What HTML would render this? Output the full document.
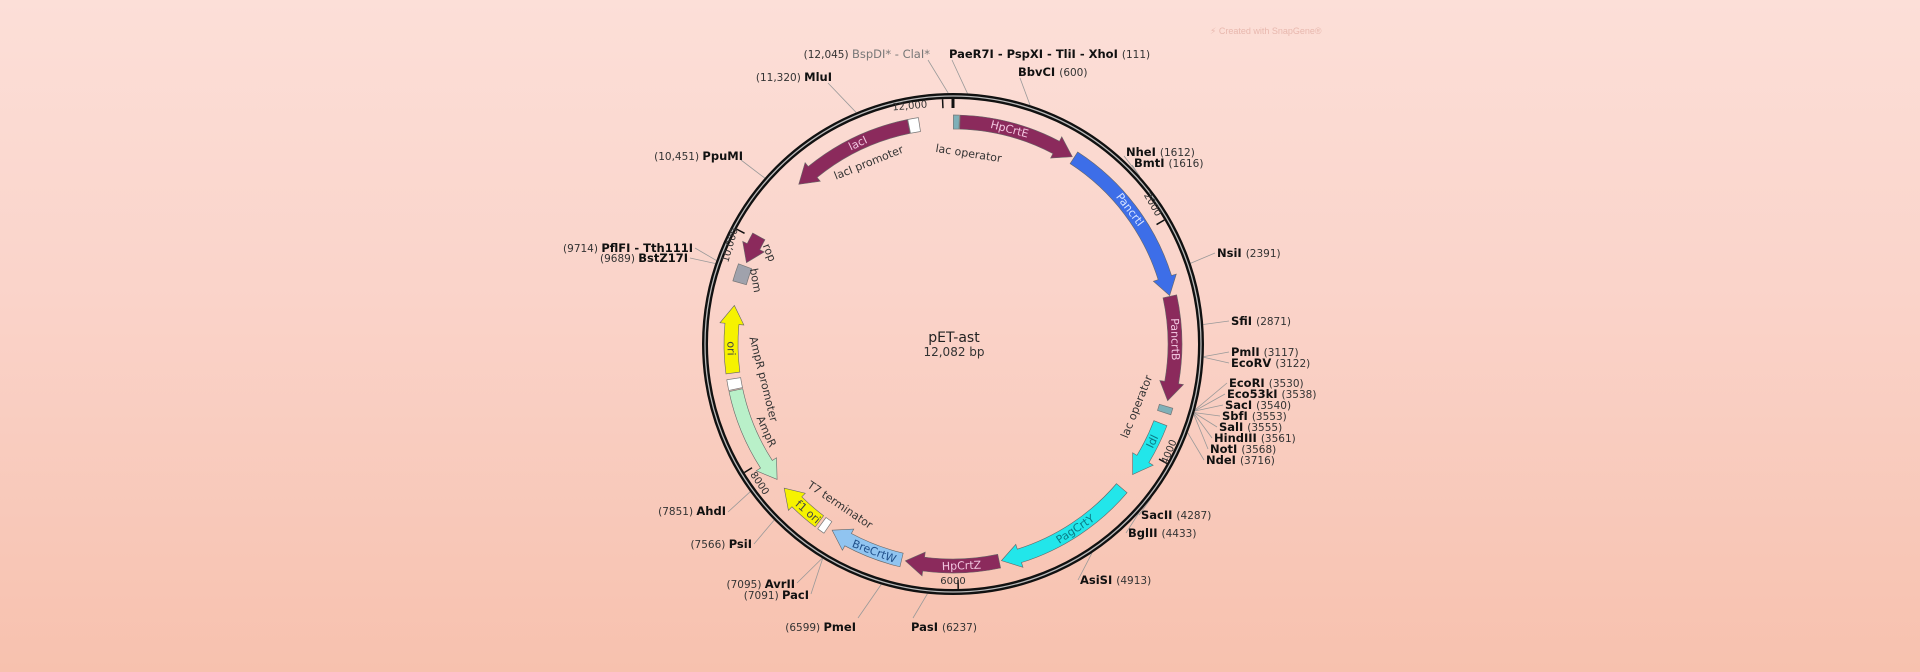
<!DOCTYPE html>
<html><head><meta charset="utf-8">
<style>
html,body{margin:0;padding:0;}
body{width:1920px;height:672px;overflow:hidden;background:linear-gradient(180deg,#fcdfd8 0%,#fad3c9 45%,#f7c1ae 100%);font-family:"Liberation Sans","DejaVu Sans",sans-serif;}
svg{position:absolute;left:0;top:0;}
.en{font-size:11.5px;fill:#111;font-weight:bold;font-family:"DejaVu Sans","Liberation Sans",sans-serif;}
.pos{font-size:10.5px;fill:#333;font-weight:normal;}
.gr{fill:#777;font-weight:normal;}
.in{font-size:11px;fill:#333;font-family:"DejaVu Sans","Liberation Sans",sans-serif;}
.tk{font-size:10px;fill:#333;font-family:"DejaVu Sans","Liberation Sans",sans-serif;}
.fl{font-size:11px;font-family:"DejaVu Sans","Liberation Sans",sans-serif;}
</style></head>
<body>
<svg id="s" width="1920" height="672" viewBox="0 0 1920 672" xmlns="http://www.w3.org/2000/svg">
<g id="lines" stroke="#999" stroke-width="0.8" fill="none"></g>
<circle cx="953" cy="344" r="248" fill="none" stroke="#111" stroke-width="6"/>
<circle cx="953" cy="344" r="248" fill="none" stroke="#bbb" stroke-width="1.3"/>
<g id="feat"></g>
<g id="ticks" stroke="#111" stroke-width="2"></g>

<text x="954" y="342" text-anchor="middle" style="font-size:14px;fill:#222;font-family:'DejaVu Sans',sans-serif">pET-ast</text>
<text x="954" y="356" text-anchor="middle" style="font-size:12px;fill:#333;font-family:'DejaVu Sans',sans-serif">12,082 bp</text>

<text x="1210" y="34" style="font-size:9px;fill:#e8b8ae">⚡ Created with SnapGene®</text>

<text class="en" x="930" y="58" text-anchor="end"><tspan class="pos">(12,045) </tspan><tspan class="gr">BspDI* - ClaI*</tspan></text>
<text class="en" x="949" y="58">PaeR7I - PspXI - TliI - XhoI <tspan class="pos">(111)</tspan></text>
<text class="en" x="1018" y="76">BbvCI <tspan class="pos">(600)</tspan></text>
<text class="en" x="832" y="81" text-anchor="end"><tspan class="pos">(11,320) </tspan>MluI</text>
<text class="en" x="743" y="160" text-anchor="end"><tspan class="pos">(10,451) </tspan>PpuMI</text>
<text class="en" x="1126" y="156">NheI <tspan class="pos">(1612)</tspan></text>
<text class="en" x="1134" y="167">BmtI <tspan class="pos">(1616)</tspan></text>
<text class="en" x="1217" y="257">NsiI <tspan class="pos">(2391)</tspan></text>
<text class="en" x="1231" y="325">SfiI <tspan class="pos">(2871)</tspan></text>
<text class="en" x="1231" y="356">PmlI <tspan class="pos">(3117)</tspan></text>
<text class="en" x="1231" y="367">EcoRV <tspan class="pos">(3122)</tspan></text>
<text class="en" x="1229" y="387">EcoRI <tspan class="pos">(3530)</tspan></text>
<text class="en" x="1227" y="398">Eco53kI <tspan class="pos">(3538)</tspan></text>
<text class="en" x="1225" y="409">SacI <tspan class="pos">(3540)</tspan></text>
<text class="en" x="1222" y="420">SbfI <tspan class="pos">(3553)</tspan></text>
<text class="en" x="1219" y="431">SalI <tspan class="pos">(3555)</tspan></text>
<text class="en" x="1214" y="442">HindIII <tspan class="pos">(3561)</tspan></text>
<text class="en" x="1210" y="453">NotI <tspan class="pos">(3568)</tspan></text>
<text class="en" x="1206" y="464">NdeI <tspan class="pos">(3716)</tspan></text>
<text class="en" x="1141" y="519">SacII <tspan class="pos">(4287)</tspan></text>
<text class="en" x="1128" y="537">BglII <tspan class="pos">(4433)</tspan></text>
<text class="en" x="1080" y="584">AsiSI <tspan class="pos">(4913)</tspan></text>
<text class="en" x="911" y="631">PasI <tspan class="pos">(6237)</tspan></text>
<text class="en" x="856" y="631" text-anchor="end"><tspan class="pos">(6599) </tspan>PmeI</text>
<text class="en" x="726" y="515" text-anchor="end"><tspan class="pos">(7851) </tspan>AhdI</text>
<text class="en" x="752" y="548" text-anchor="end"><tspan class="pos">(7566) </tspan>PsiI</text>
<text class="en" x="795" y="588" text-anchor="end"><tspan class="pos">(7095) </tspan>AvrII</text>
<text class="en" x="809" y="599" text-anchor="end"><tspan class="pos">(7091) </tspan>PacI</text>
<text class="en" x="693" y="252" text-anchor="end"><tspan class="pos">(9714) </tspan>PflFI - Tth111I</text>
<text class="en" x="688" y="262" text-anchor="end"><tspan class="pos">(9689) </tspan>BstZ17I</text>

<text class="in" transform="translate(870,166) rotate(-22)" text-anchor="middle">lacI promoter</text>
<text class="in" transform="translate(968,157) rotate(9)" text-anchor="middle">lac operator</text>
<text class="in" transform="translate(1140,408) rotate(-68)" text-anchor="middle">lac operator</text>
<text class="in" transform="translate(838,508) rotate(34)" text-anchor="middle">T7 terminator</text>
<text class="in" transform="translate(760,380) rotate(76)" text-anchor="middle">AmpR promoter</text>
<text class="in" transform="translate(763,433) rotate(66)" text-anchor="middle">AmpR</text>
<text class="in" transform="translate(752,281) rotate(80)" text-anchor="middle">bom</text>
<text class="in" transform="translate(766,254) rotate(68)" text-anchor="middle">rop</text>

<text class="tk" transform="translate(910,109) rotate(-5)" text-anchor="middle">12,000</text>
<text class="tk" transform="translate(1150,206) rotate(60)" text-anchor="middle">2000</text>
<text class="tk" transform="translate(1172,453) rotate(-68)" text-anchor="middle">4000</text>
<text class="tk" transform="translate(953,584)" text-anchor="middle">6000</text>
<text class="tk" transform="translate(757,485) rotate(56)" text-anchor="middle">8000</text>
<text class="tk" transform="translate(733,246) rotate(-74)" text-anchor="middle">10,000</text>
</svg>
<script>
var CX=953,CY=344,NS="http://www.w3.org/2000/svg";
function pt(a,r){var t=a*Math.PI/180;return [CX+r*Math.sin(t),CY-r*Math.cos(t)];}
function el(tag,attrs,parent){var e=document.createElementNS(NS,tag);for(var k in attrs)e.setAttribute(k,attrs[k]);parent.appendChild(e);return e;}
var F=document.getElementById('feat');
var R=222,W=7,HW=12;
function arrow(a1,a2,col,label,tcol,stroke){
  var dir=a2>a1?1:-1, len=Math.abs(a2-a1);
  var hl=Math.min(4.8,len*0.6);
  var ab=a2-dir*hl;
  var large=Math.abs(ab-a1)>180?1:0;
  var sw=dir>0?1:0, sw2=1-sw;
  var p1=pt(a1,R+W),p2=pt(ab,R+W),p3=pt(ab,R+HW),p4=pt(a2,R),p5=pt(ab,R-HW),p6=pt(ab,R-W),p7=pt(a1,R-W);
  var d="M"+p1+" A"+(R+W)+","+(R+W)+" 0 "+large+" "+sw+" "+p2+" L"+p3+" L"+p4+" L"+p5+" L"+p6+" A"+(R-W)+","+(R-W)+" 0 "+large+" "+sw2+" "+p7+" Z";
  el('path',{d:d,fill:col,stroke:stroke||'#666','stroke-width':0.6},F);
  if(label){
    var m=(a1+ab)/2, p=pt(m,R), rot=m;
    var mm=((m%360)+360)%360;
    if(mm>90&&mm<270)rot=m+180;
    var t=el('text',{x:p[0],y:p[1],'text-anchor':'middle','dominant-baseline':'central',transform:'rotate('+rot+' '+p[0]+' '+p[1]+')','class':'fl',fill:tcol},F);
    t.textContent=label;
  }
}
function box(a1,a2,col){
  var p1=pt(a1,R+W),p2=pt(a2,R+W),p3=pt(a2,R-W),p4=pt(a1,R-W);
  el('path',{d:"M"+p1+" A"+(R+W)+","+(R+W)+" 0 0 1 "+p2+" L"+p3+" A"+(R-W)+","+(R-W)+" 0 0 0 "+p4+" Z",fill:col,stroke:'#777','stroke-width':0.7},F);
}
var M='#8b2a5c';
arrow(348.5,316,M,'lacI','#f2c6e0');
box(348.6,351.3,'#ffffff');
box(0.1,1.6,'#7fb0b8');
arrow(1.8,32.5,M,'HpCrtE','#f2c6e0');
arrow(33,77.4,'#3d6ee8','PancrtI','#d8e4ff');
arrow(77.6,104.8,M,'PancrtB','#f2c6e0');
box(106.3,108,'#7fb0b8');
arrow(110.9,126,'#22e6ea','Idl','#0a7b86');
arrow(130.5,167.4,'#22e6ea','PagCrtY','#0a7b86');
arrow(168,192.4,M,'HpCrtZ','#f2c6e0');
arrow(193.4,213,'#90c4f0','BreCrtW','#1f4f8a');
box(214.3,216.2,'#ffffff');
arrow(217,229.5,'#f6f200','f1 ori','#444');
arrow(258,232.4,'#b9f0c9','',null);
box(258.3,261,'#ffffff');
arrow(262.5,280,'#f6f200','ori','#444');
box(286,290.5,'#a0a2ac');
arrow(299,291.5,M,'',null);
var T=document.getElementById('ticks');
[0,2000,4000,6000,8000,10000,12000].forEach(function(b){
  var a=b/12082*360;var p1=pt(a,245),p2=pt(a,236);
  el('line',{x1:p1[0],y1:p1[1],x2:p2[0],y2:p2[1],'stroke-width':b==0?3:1.5},T);
});
var L=document.getElementById('lines');
[[12045,928,60],[111,952,60],[600,1020,78],[11320,828,83],[10451,741,160],
 [1612,1124,156],[1616,1132,165],[2391,1215,253],[2871,1229,321],[3117,1229,352],[3122,1229,363],
 [3530,1227,383],[3538,1225,394],[3540,1223,405],[3553,1220,416],[3555,1217,427],[3561,1212,438],[3568,1208,449],[3716,1204,460],
 [4287,1139,515],[4433,1126,533],[4913,1078,580],[6237,913,618],[6599,858,618],
 [7851,728,512],[7566,754,544],[7095,797,583],[7091,811,594],[9714,695,248],[9689,690,258]
].forEach(function(e){
  var a=e[0]/12082*360;var p=pt(a,251);
  el('line',{x1:p[0],y1:p[1],x2:e[1],y2:e[2]},L);
});
</script>
</body></html>
